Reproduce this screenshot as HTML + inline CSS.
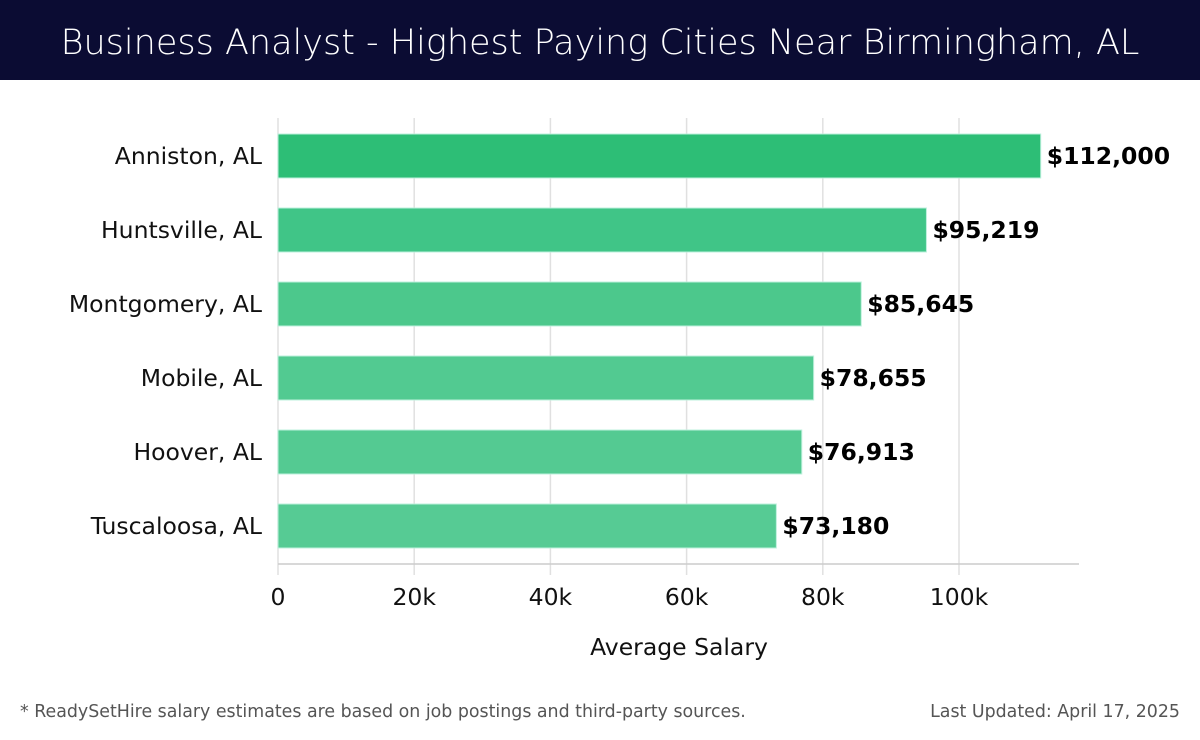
<!DOCTYPE html>
<html><head><meta charset="utf-8"><style>
body{margin:0;width:1200px;height:740px;background:#fff;font-family:"DejaVu Sans","Liberation Sans",sans-serif;overflow:hidden;position:relative}
#hdr{position:absolute;left:0;top:0;width:1200px;height:80px;background:#0b0c33;color:#fff;font-size:35px;text-align:center;line-height:86px;font-weight:300}
.foot{position:absolute;top:702px;font-size:17.4px;color:#555}
</style></head><body>
<div id="hdr">Business Analyst - Highest Paying Cities Near Birmingham, AL</div>
<svg id="c" width="1200" height="700" style="position:absolute;left:0;top:0"></svg>
<div class="foot" style="left:20px">* ReadySetHire salary estimates are based on job postings and third-party sources.</div>
<div class="foot" style="right:20px">Last Updated: April 17, 2025</div>
<script>
const cities=["Anniston, AL","Huntsville, AL","Montgomery, AL","Mobile, AL","Hoover, AL","Tuscaloosa, AL"];
const salaries=[112000,95219,85645,78655,76913,73180];
const ticks=[0,20000,40000,60000,80000,100000];
const tickLabels=["0","20k","40k","60k","80k","100k"];
const colors=["#2dbe76","#40c587","#4cc88c","#52ca91","#54ca92","#56cb94"];
const svg=document.getElementById('c');const NS='http://www.w3.org/2000/svg';
const x=v=>278+v*(681/100000);
const yc=i=>156+i*74;
function mk(t,a,p){const e=document.createElementNS(NS,t);for(const k in a)e.setAttribute(k,a[k]);(p||svg).appendChild(e);return e;}
ticks.forEach((t,i)=>{
 const g=mk('line',{x1:x(t),x2:x(t),y1:118,y2:575,stroke:'#e0e0e0','stroke-width':1.5});
 
 
 const l=mk('text',{x:x(t),y:605,'text-anchor':'middle','font-size':23.5,fill:'#111'});l.textContent=tickLabels[i];
 
 
});
const ax=mk('line',{x1:278,x2:1079,y1:564,y2:564,stroke:'#ccc','stroke-width':1.5});


cities.forEach((c,i)=>{
 const r=mk('rect',{x:278,y:yc(i)-22,width:x(salaries[i])-278,height:44,fill:colors[i],stroke:'#bdf0dc','stroke-width':1});
 
 
 const t=mk('text',{x:262,y:yc(i)+8,'text-anchor':'end','font-size':23.5,fill:'#111'});t.textContent=c;
 
 
 const v=mk('text',{x:x(salaries[i])+6,y:yc(i)+8,'font-size':23.5,'font-weight':'bold',fill:'#000'});v.textContent='$'+salaries[i].toLocaleString('en-US');
 
 
});
const at=mk('text',{x:679,y:655,'text-anchor':'middle','font-size':23.5,fill:'#111'});at.textContent='Average Salary';


</script>
</body></html>
